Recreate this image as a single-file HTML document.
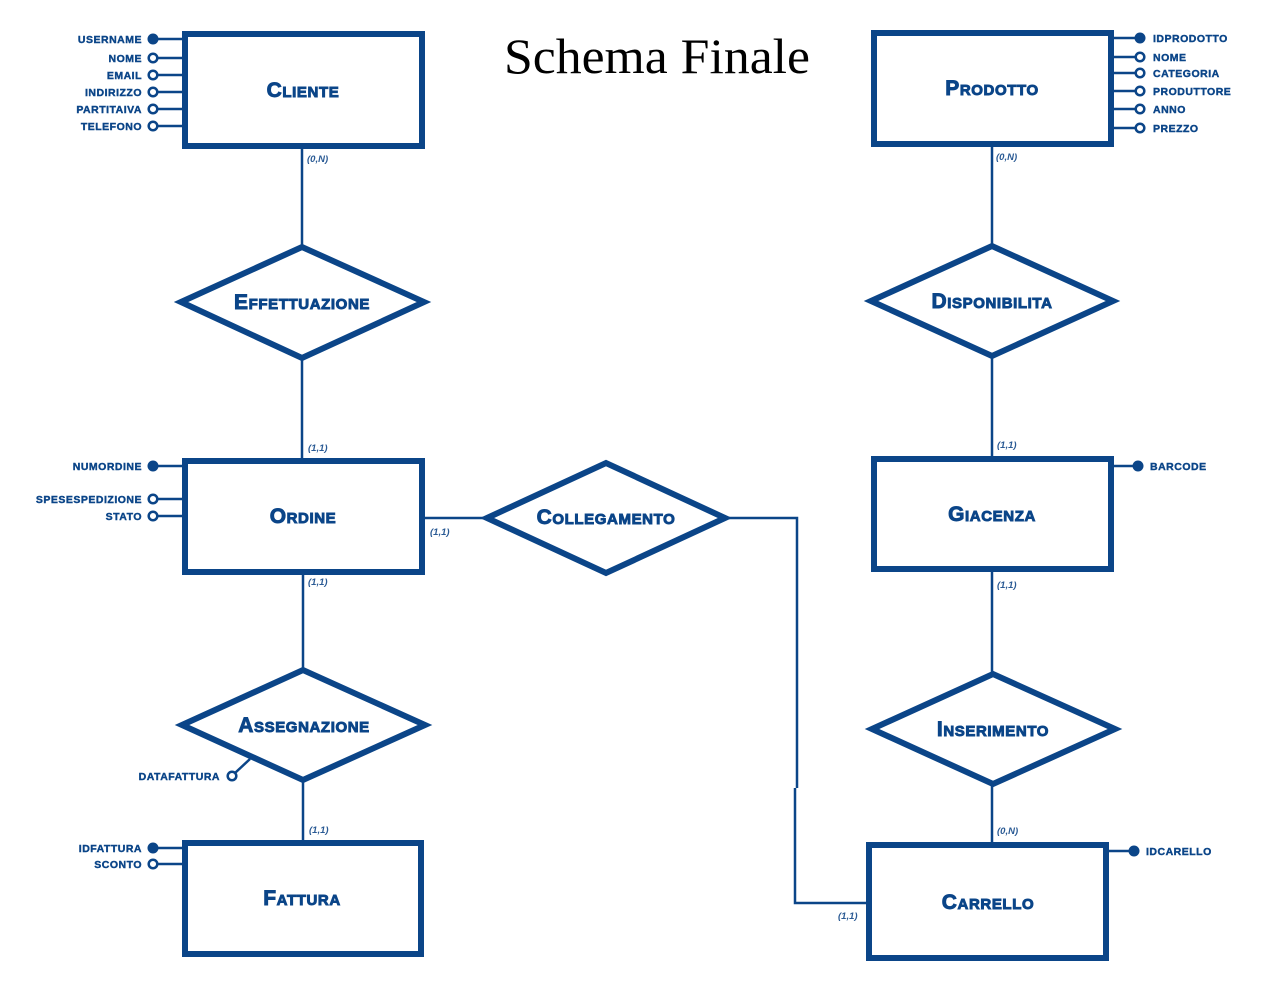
<!DOCTYPE html>
<html><head><meta charset="utf-8"><style>
html,body{margin:0;padding:0;background:#fff;}
svg{display:block;}
.e{fill:#fff;stroke:#0b4588;stroke-width:6;}
.l{stroke:#0b4588;stroke-width:2.5;fill:none;}
.en{font-family:"Liberation Sans",sans-serif;font-weight:bold;font-variant:small-caps;font-size:21px;fill:#0b4588;stroke:#0b4588;stroke-width:0.9;text-anchor:middle;letter-spacing:0.6px;}
.a{font-family:"Liberation Sans",sans-serif;font-weight:bold;font-size:10.5px;fill:#0b4588;stroke:#0b4588;stroke-width:0.4;letter-spacing:0.5px;}
.c{font-family:"Liberation Sans",sans-serif;font-weight:bold;font-style:italic;font-size:9.5px;fill:#2a5a94;}
.fc{fill:#0b4588;}
.oc{fill:#fff;stroke:#0b4588;stroke-width:2.5;}
</style></head><body>
<svg width="1271" height="985" viewBox="0 0 1271 985" xmlns="http://www.w3.org/2000/svg">
<text x="657" y="73" text-anchor="middle" font-family="Liberation Serif,serif" font-size="50" textLength="306" lengthAdjust="spacingAndGlyphs" fill="#000">Schema Finale</text>

<path class="l" d="M302 148V245M302 360V458M303 574V668M303 782V840M992 146V244M992 358V456M992 571V672M992 786V844M424 518H484M728 518H797V788M795 788V903H867"/>
<line class="l" x1="250" y1="759" x2="235" y2="773"/>

<path class="l" d="M153 39H182M153 58H182M153 75H182M153 92H182M153 109H182M153 126H182
M1113 38H1140M1113 57H1140M1113 73H1140M1113 91H1140M1113 109H1140M1113 128H1140
M153 466H182M153 499H182M153 516H182M1113 466H1138M153 848H182M153 864H182M1108 851H1134"/>

<rect class="e" x="185" y="34" width="237" height="112"/>
<rect class="e" x="874" y="33" width="237" height="111"/>
<rect class="e" x="185" y="461" width="237" height="111"/>
<rect class="e" x="874" y="459" width="237" height="110"/>
<rect class="e" x="185" y="843" width="236" height="111"/>
<rect class="e" x="869" y="845" width="237" height="113"/>

<polygon class="e" points="181,302 302,247 424,302 302,358"/>
<polygon class="e" points="871,301 992,246 1113,301 992,356"/>
<polygon class="e" points="487,518 606,463 725,518 606,573"/>
<polygon class="e" points="182,725 303,670 425,725 303,780"/>
<polygon class="e" points="872,729 993,674 1115,729 993,784"/>

<text class="en" x="303" y="97">Cliente</text>
<text class="en" x="992" y="95">Prodotto</text>
<text class="en" x="303" y="523">Ordine</text>
<text class="en" x="992" y="521">Giacenza</text>
<text class="en" x="302" y="905">Fattura</text>
<text class="en" x="988" y="909">Carrello</text>
<text class="en" x="302" y="309">Effettuazione</text>
<text class="en" x="992" y="308">Disponibilita</text>
<text class="en" x="606" y="524">Collegamento</text>
<text class="en" x="304" y="732">Assegnazione</text>
<text class="en" x="993" y="736">Inserimento</text>

<circle class="fc" cx="153" cy="39" r="5.5"/>
<circle class="oc" cx="153" cy="58" r="4.3"/>
<circle class="oc" cx="153" cy="75" r="4.3"/>
<circle class="oc" cx="153" cy="92" r="4.3"/>
<circle class="oc" cx="153" cy="109" r="4.3"/>
<circle class="oc" cx="153" cy="126" r="4.3"/>
<circle class="fc" cx="1140" cy="38" r="5.5"/>
<circle class="oc" cx="1140" cy="57" r="4.3"/>
<circle class="oc" cx="1140" cy="73" r="4.3"/>
<circle class="oc" cx="1140" cy="91" r="4.3"/>
<circle class="oc" cx="1140" cy="109" r="4.3"/>
<circle class="oc" cx="1140" cy="128" r="4.3"/>
<circle class="fc" cx="153" cy="466" r="5.5"/>
<circle class="oc" cx="153" cy="499" r="4.3"/>
<circle class="oc" cx="153" cy="516" r="4.3"/>
<circle class="fc" cx="1138" cy="466" r="5.5"/>
<circle class="fc" cx="153" cy="848" r="5.5"/>
<circle class="oc" cx="153" cy="864" r="4.3"/>
<circle class="fc" cx="1134" cy="851" r="5.5"/>
<circle class="oc" cx="232" cy="776" r="4.3"/>

<g class="a" text-anchor="end">
<text x="142" y="43">USERNAME</text>
<text x="142" y="62">NOME</text>
<text x="142" y="79">EMAIL</text>
<text x="142" y="96">INDIRIZZO</text>
<text x="142" y="113">PARTITAIVA</text>
<text x="142" y="130">TELEFONO</text>
<text x="142" y="470">NUMORDINE</text>
<text x="142" y="503">SPESESPEDIZIONE</text>
<text x="142" y="520">STATO</text>
<text x="142" y="852">IDFATTURA</text>
<text x="142" y="868">SCONTO</text>
<text x="220" y="780">DATAFATTURA</text>
</g>
<g class="a">
<text x="1153" y="42">IDPRODOTTO</text>
<text x="1153" y="61">NOME</text>
<text x="1153" y="77">CATEGORIA</text>
<text x="1153" y="95">PRODUTTORE</text>
<text x="1153" y="113">ANNO</text>
<text x="1153" y="132">PREZZO</text>
<text x="1150" y="470">BARCODE</text>
<text x="1146" y="855">IDCARELLO</text>
</g>

<g class="c">
<text x="307" y="162">(0,N)</text>
<text x="996" y="160">(0,N)</text>
<text x="308" y="451">(1,1)</text>
<text x="430" y="535">(1,1)</text>
<text x="308" y="585">(1,1)</text>
<text x="309" y="833">(1,1)</text>
<text x="997" y="448">(1,1)</text>
<text x="997" y="588">(1,1)</text>
<text x="997" y="834">(0,N)</text>
<text x="838" y="919">(1,1)</text>
</g>
</svg>
</body></html>
